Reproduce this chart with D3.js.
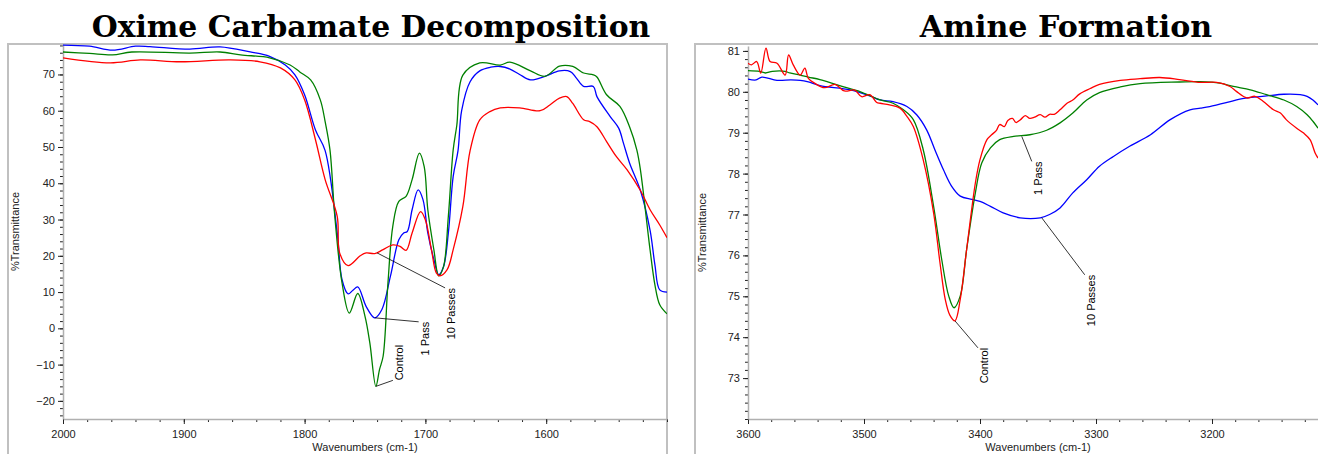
<!DOCTYPE html>
<html>
<head>
<meta charset="utf-8">
<script src="https://cdn.jsdelivr.net/npm/d3@7"></script>
<style>
  body { margin: 0; background: #fff; }
  text { font-family: "Liberation Sans", Arial, sans-serif; }
</style>
</head>
<body>
<svg id="chart" width="1318" height="454"></svg>
<script>
// ---- Oxime carbamate decomposition: [wavenumber, %T]
const oximeControl = [[2000,76.2],[1978,75.8],[1959,75.4],[1943,76.2],[1895,75.9],[1870,76.2],[1853,75.4],[1829,74.6],[1812,72.6],[1804,70.7],[1795,68.5],[1787,63],[1783,57],[1779,49.2],[1775,30.9],[1769,12.5],[1763,4.2],[1756,9.6],[1750,3.3],[1746,-4],[1741,-16],[1738,-11.4],[1735,-7.7],[1731,12.5],[1727,28.1],[1722,35],[1716,36.4],[1711,41],[1705,48.3],[1701,44.6],[1698,32.7],[1693,21.7],[1689,14.5],[1685,17],[1681,30.9],[1677,49.2],[1674,56],[1669,69.8],[1655,73.2],[1638,72.6],[1630,73.4],[1613,71],[1601,69.5],[1589,72.3],[1578,72.2],[1569,70.4],[1561,69.9],[1558,69.3],[1550,64.4],[1539,61.2],[1531,55.6],[1525,49.2],[1522,43.7],[1514,21.6],[1510,12],[1506,6.5],[1500,4]];
const oxime1Pass = [[2000,78.1],[1978,77.8],[1959,76.7],[1940,77.8],[1928,77.7],[1895,77.0],[1870,77.6],[1845,76.2],[1829,75],[1816,72.6],[1808,69.9],[1800,64.4],[1791,54.7],[1783,49],[1773,26.3],[1769,13.4],[1764,9.5],[1760,10.5],[1756,11.4],[1749,6],[1742,2.9],[1736,5.2],[1729,14.3],[1722,24.4],[1718,26.3],[1715,26.7],[1711,32.7],[1706,38.2],[1702,35.5],[1698,26.3],[1693,19],[1689,14.8],[1685,17],[1681,26.3],[1677,41.9],[1673,49],[1670,60],[1663,68],[1655,71],[1646,72],[1638,72.2],[1630,71.5],[1622,70],[1613,68.5],[1601,69.5],[1589,71],[1580,70.8],[1575,69],[1569,66.7],[1561,66.7],[1558,63.9],[1547,58.4],[1540,55.2],[1536,51],[1531,45.6],[1522,38],[1514,27],[1510,17.5],[1506,10.6],[1500,10]];
const oxime10Passes = [[2000,74.6],[1961,73.2],[1936,74],[1903,73.5],[1862,74],[1837,73.5],[1820,71.8],[1808,68.5],[1800,63],[1791,52],[1783,41],[1773,30.9],[1771,20.8],[1764,17.3],[1754,20],[1749,20.8],[1742,20.6],[1735,21.7],[1727,23],[1721,22.6],[1716,21.5],[1711,26.3],[1704,32.2],[1700,29.9],[1695,21.7],[1691,15.3],[1688,14.5],[1682,16.2],[1677,21.7],[1669,33.6],[1663,49],[1655,57.5],[1647,59.7],[1638,60.8],[1622,60.8],[1605,60],[1597,61.6],[1589,63.5],[1583,63.9],[1578,62],[1569,57.5],[1564,57],[1558,55.6],[1550,51.5],[1542,47.4],[1533,43.7],[1522,38],[1514,32.7],[1506,28.5],[1500,25]];

// ---- Amine formation: [wavenumber, %T]
const amineControl = [[3600,80.7],[3597,80.66],[3592.5,80.74],[3589,80.46],[3584.5,81.07],[3581,80.74],[3575,80.7],[3568,80.41],[3565,80.9],[3561,80.66],[3555,80.41],[3551,80.58],[3548,80.33],[3542,80.2],[3534,80.1],[3525,80.18],[3517,80.02],[3508,80.04],[3502,79.88],[3495,79.93],[3489,79.74],[3486,79.72],[3478,79.68],[3469,79.6],[3463,79.4],[3457.5,79.15],[3449,78.34],[3440,77.04],[3434.5,75.82],[3430,74.93],[3426,74.54],[3421.6,74.4],[3417,74.93],[3411.5,76.15],[3404,77.77],[3400,78.34],[3394,78.83],[3390,78.95],[3386,79.05],[3383,79.2],[3379,79.15],[3376,79.3],[3372,79.35],[3369,79.25],[3365,79.32],[3361,79.42],[3357,79.35],[3353,79.38],[3348,79.44],[3344,79.38],[3340,79.45],[3336,79.45],[3331,79.56],[3325,79.72],[3320,79.8],[3314,79.95],[3305,80.08],[3297,80.18],[3279,80.28],[3262,80.32],[3245,80.35],[3228,80.3],[3210,80.23],[3196,80.23],[3184.5,80.13],[3179,80.01],[3170,79.85],[3163,79.89],[3156,79.77],[3147,79.56],[3141,79.48],[3136,79.32],[3127,79.11],[3121,78.99],[3115.5,78.83],[3111,78.5],[3108.6,78.38]];
const amine1Pass = [[3600,80.52],[3590,80.5],[3585,80.46],[3579,80.5],[3568,80.5],[3564,80.46],[3555,80.41],[3548,80.36],[3538,80.3],[3521,80.15],[3503,80.0],[3486,79.8],[3475,79.72],[3466,79.56],[3457.5,79.32],[3449,78.59],[3440,77.2],[3433,75.9],[3427,75.01],[3422.4,74.72],[3417,75.01],[3411.5,76.15],[3404,77.53],[3398.5,78.26],[3391,78.63],[3383,78.83],[3371,78.91],[3357,78.95],[3342.5,79.06],[3331,79.24],[3320,79.48],[3308,79.8],[3297,79.98],[3279,80.12],[3262,80.2],[3228,80.24],[3210,80.25],[3193,80.21],[3181.6,80.13],[3167,80.05],[3153,79.93],[3138,79.8],[3127,79.64],[3118,79.44],[3113,79.28],[3108.6,79.11]];
const amine10Passes = [[3600,80.31],[3593,80.29],[3588,80.36],[3575,80.28],[3563,80.29],[3555,80.28],[3548,80.24],[3538,80.15],[3512,80.05],[3495,79.9],[3486,79.8],[3475,79.76],[3463,79.64],[3454.6,79.44],[3446,79.07],[3439,78.59],[3431.6,78.1],[3424.4,77.69],[3417,77.45],[3407,77.37],[3400,77.32],[3391,77.2],[3380,77.04],[3365.5,76.92],[3348,76.92],[3340,77.0],[3331,77.16],[3320,77.53],[3308,77.85],[3297,78.18],[3285,78.42],[3271,78.67],[3253,78.95],[3236,79.32],[3219,79.56],[3210,79.6],[3202,79.64],[3187,79.74],[3176,79.82],[3164,79.87],[3153,79.9],[3138,79.94],[3124,79.93],[3118,79.89],[3113,79.8],[3108.6,79.68]];

const oximeXTicks = [2000, 1900, 1800, 1700, 1600];
const oximeYTicks = [-20, -10, 0, 10, 20, 30, 40, 50, 60, 70];
const amineXTicks = [3600, 3500, 3400, 3300, 3200];
const amineYTicks = [73, 74, 75, 76, 77, 78, 79, 80, 81];

const svg = d3.select("#chart");

const panels = [
  {
    id: "oxime",
    title: "Oxime Carbamate Decomposition",
    titleX: 371,
    titleWidth: 558,
    frame: { x: 8, y: 44, w: 659, h: 440 },
    plot: { left: 63, right: 667, top: 44, bottom: 419 },
    xDomain: [2000, 1500],
    yDomain: [-25, 78.4],
    xTicks: oximeXTicks, xMinor: 20,
    yTicks: oximeYTicks, yMinor: 2,
    series: [
      { data: oxime1Pass, color: "#0000ff" },
      { data: oximeControl, color: "#008000" },
      { data: oxime10Passes, color: "#ff0000" },
    ],
    notes: [
      { text: "Control", from: [1741, -16], dx: 17, dy: -6, anchor: "start" },
      { text: "1 Pass", from: [1742, 2.9], dx: 44, dy: 4, anchor: "end" },
      { text: "10 Passes", from: [1740, 20.8], dx: 68, dy: 35, anchor: "end" },
    ],
  },
  {
    id: "amine",
    title: "Amine Formation",
    titleX: 1066,
    titleWidth: 292,
    frame: { x: 695, y: 44, w: 700, h: 440 },
    plot: { left: 748, right: 1328, top: 46, bottom: 419 },
    xDomain: [3600, 3100],
    yDomain: [72, 81.12],
    xTicks: amineXTicks, xMinor: 20,
    yTicks: amineYTicks, yMinor: 0.2,
    series: [
      { data: amine10Passes, color: "#0000ff" },
      { data: amine1Pass, color: "#008000" },
      { data: amineControl, color: "#ff0000" },
    ],
    notes: [
      { text: "Control", from: [3421.6, 74.4], dx: 23, dy: 27, anchor: "end" },
      { text: "1 Pass", from: [3364, 78.91], dx: 10, dy: 25, anchor: "end" },
      { text: "10 Passes", from: [3346.8, 76.92], dx: 43, dy: 57, anchor: "end" },
    ],
  },
];

panels.forEach((p) => {
  const g = svg.append("g").attr("id", p.id);

  // frame
  g.append("rect")
    .attr("x", p.frame.x).attr("y", p.frame.y)
    .attr("width", p.frame.w).attr("height", p.frame.h)
    .attr("fill", "none").attr("stroke", "#c0c0c0").attr("stroke-width", 2);

  // title, sized to the width it takes in the original
  const title = g.append("text")
    .attr("x", p.titleX)
    .attr("y", 37)
    .attr("text-anchor", "middle")
    .style("font-family", "'DejaVu Serif', serif")
    .style("font-weight", "bold")
    .style("font-size", "30px")
    .text(p.title);
  const tw = title.node().getComputedTextLength();
  title.style("font-size", (30 * p.titleWidth / tw).toFixed(1) + "px");

  const x = d3.scaleLinear().domain(p.xDomain).range([p.plot.left, p.plot.right]);
  const y = d3.scaleLinear().domain(p.yDomain).range([p.plot.bottom, p.plot.top]);

  // minor ticks
  const xMinorVals = d3.range(p.xDomain[0], p.xDomain[1] - 0.001, -p.xMinor);
  const yMinorVals = d3.range(Math.ceil(p.yDomain[0] / p.yMinor) * p.yMinor, p.yDomain[1], p.yMinor);

  g.append("g")
    .attr("transform", `translate(0,${p.plot.bottom})`)
    .call(d3.axisBottom(x).tickValues(xMinorVals).tickSize(3).tickFormat(""))
    .call((a) => a.select(".domain").remove());
  g.append("g")
    .attr("transform", `translate(${p.plot.left},0)`)
    .call(d3.axisLeft(y).tickValues(yMinorVals).tickSize(3).tickFormat(""))
    .call((a) => a.select(".domain").remove());

  // major ticks + labels
  const xAxis = g.append("g")
    .attr("transform", `translate(0,${p.plot.bottom})`)
    .call(d3.axisBottom(x).tickValues(p.xTicks).tickFormat(d3.format("d"))
      .tickSize(5).tickPadding(6).tickSizeOuter(0));
  const yAxis = g.append("g")
    .attr("transform", `translate(${p.plot.left},0)`)
    .call(d3.axisLeft(y).tickValues(p.yTicks).tickFormat(d3.format("d"))
      .tickSize(5).tickPadding(3).tickSizeOuter(0));

  [xAxis, yAxis].forEach((a) => {
    a.select(".domain").attr("stroke", "#b0b0b0").attr("stroke-width", 1.5);
    a.selectAll("text").style("font-size", "11px").attr("fill", "#222");
  });
  g.selectAll(".tick line").attr("stroke", "#222");

  // axis titles
  g.append("text")
    .attr("x", (p.plot.left + p.plot.right) / 2)
    .attr("y", 451)
    .attr("text-anchor", "middle")
    .style("font-size", "11px")
    .attr("fill", "#222")
    .text("Wavenumbers (cm-1)");
  g.append("text")
    .attr("transform", `translate(${p.frame.x + 11},${(p.plot.top + p.plot.bottom) / 2}) rotate(-90)`)
    .attr("text-anchor", "middle")
    .style("font-size", "11px")
    .attr("fill", "#222")
    .text("%Transmittance");

  // clip
  g.append("clipPath").attr("id", "clip-" + p.id)
    .append("rect")
    .attr("x", p.plot.left).attr("y", p.plot.top)
    .attr("width", p.plot.right - p.plot.left)
    .attr("height", p.plot.bottom - p.plot.top);

  const line = d3.line()
    .x((d) => x(d[0]))
    .y((d) => y(d[1]))
    .curve(d3.curveCatmullRom.alpha(0.5));

  const lines = g.append("g").attr("clip-path", `url(#clip-${p.id})`);
  p.series.forEach((s) => {
    lines.append("path")
      .datum(s.data)
      .attr("d", line)
      .attr("fill", "none")
      .attr("stroke", s.color)
      .attr("stroke-width", 1.3);
  });

  // labels with leader lines
  p.notes.forEach((n) => {
    const x0 = x(n.from[0]), y0 = y(n.from[1]);
    const x1 = x0 + n.dx, y1 = y0 + n.dy;
    g.append("line")
      .attr("x1", x0).attr("y1", y0).attr("x2", x1).attr("y2", y1)
      .attr("stroke", "#000").attr("stroke-width", 0.8);
    g.append("text")
      .attr("transform", `translate(${x1 + 6},${y1}) rotate(-90)`)
      .attr("text-anchor", n.anchor)
      .attr("dy", "0.35em")
      .style("font-size", "11px")
      .attr("fill", "#000")
      .text(n.text);
  });
});
</script>
</body>
</html>
